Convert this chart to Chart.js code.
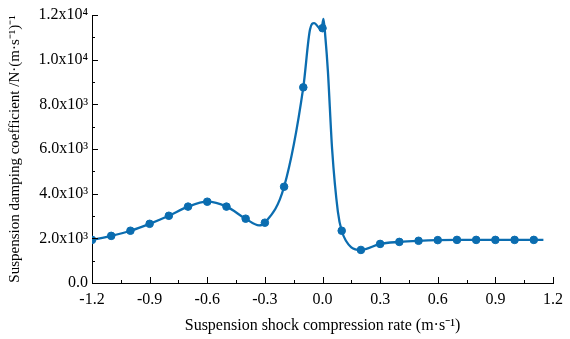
<!DOCTYPE html>
<html><head><meta charset="utf-8">
<script src="https://cdn.jsdelivr.net/npm/chart.js@4/dist/chart.umd.min.js"></script>
<style>html,body{margin:0;padding:0;background:#fff}#w{width:570px;height:339px}</style>
</head><body><div id="w"><canvas id="c"></canvas></div>
<script>
// marker points
const markerX = [-1.2,-1.1,-1.0,-0.9,-0.8,-0.7,-0.6,-0.5,-0.4,-0.3,-0.2,-0.1,0.0,0.1,0.2,0.3,0.4,0.5,0.6,0.7,0.8,0.9,1.0,1.1];
const markerY = [1930,2110,2340,2650,3010,3420,3640,3420,2880,2700,4310,8760,11410,2340,1480,1750,1840,1890,1920,1930,1930,1930,1930,1930];
// fitted curve
const curveX = [-1.2,-1.1,-1.0,-0.9,-0.8,-0.7,-0.6,-0.5,-0.4,-0.33,-0.3,-0.2,-0.1,-0.065,-0.043,-0.017,-0.005,0.005,0.015,0.028,0.05,0.08,0.1,0.15,0.2,0.3,0.4,0.5,0.6,0.7,0.8,0.9,1.0,1.1,1.15];
const curveY = [1930,2110,2340,2650,3010,3420,3640,3420,2880,2580,2700,4310,8760,11350,11640,11420,11400,11820,11000,9500,6000,3200,2340,1600,1480,1750,1840,1890,1920,1930,1930,1930,1930,1930,1930];
const xTicks = [-1.2,-0.9,-0.6,-0.3,0.0,0.3,0.6,0.9,1.2];
const yTicks = [0,2000,4000,6000,8000,10000,12000];

const col = '#0b6db0';
const sup = {'3':'³','4':'⁴'};
function yLabel(v){
  if (v === 0) return '0.0';
  const e = Math.floor(Math.log10(v));
  return (v/Math.pow(10,e)).toFixed(1) + 'x10' + sup[String(e)];
}
const inwardTicks = {
  id:'inward',
  afterDraw(ch){
    const c = ch.ctx, x = ch.scales.x, y = ch.scales.y;
    c.save(); c.strokeStyle='#000'; c.lineWidth=1;
    const bx = x.getPixelForValue(-1.2), by = y.getPixelForValue(0);
    for (let v=0; v<=12000; v+=1000){
      const p = Math.round(y.getPixelForValue(v))+0.5;
      const len = (v%2000===0)?6:3;
      c.beginPath(); c.moveTo(bx,p); c.lineTo(bx+len,p); c.stroke();
    }
    for (let i=0;i<=16;i++){
      const v = -1.2 + i*0.15;
      const p = Math.round(x.getPixelForValue(v))+0.5;
      const len = (i%2===0)?6:3;
      c.beginPath(); c.moveTo(p,by); c.lineTo(p,by-len); c.stroke();
    }
    c.restore();
  }
};
new Chart(document.getElementById('c'), {
  type:'scatter',
  data:{datasets:[
    {type:'line', data:curveX.map((v,i)=>({x:v,y:curveY[i]})), borderColor:col, borderWidth:2.3, pointRadius:0, cubicInterpolationMode:'monotone', fill:false},
    {type:'scatter', data:markerX.map((v,i)=>({x:v,y:markerY[i]})), backgroundColor:col, borderColor:col, pointRadius:3.8}
  ]},
  options:{
    responsive:true, maintainAspectRatio:false, animation:false,
    layout:{padding:{top:15,right:12,left:2,bottom:0}},
    plugins:{legend:{display:false},tooltip:{enabled:false}},
    scales:{
      x:{type:'linear', min:-1.2, max:1.2,
        afterBuildTicks(s){ s.ticks = xTicks.map(v=>({value:v})); },
        afterFit(s){ s.height = 56; },
        grid:{display:false, drawTicks:false}, border:{display:true,color:'#000',width:1},
        ticks:{color:'#000', padding:7, font:{family:'"Liberation Serif"', size:16}, maxRotation:0,
          callback:(v)=> (Math.abs(v)<1e-9?'0.0':Number(v).toFixed(1))},
        title:{display:true, text:'Suspension shock compression rate (m·s⁻¹)', color:'#000', font:{family:'"Liberation Serif"', size:16}, padding:{top:2}}
      },
      y:{min:0, max:12000,
        afterBuildTicks(s){ s.ticks = yTicks.map(v=>({value:v})); },
        afterFit(s){ s.width = 90; },
        grid:{display:false, drawTicks:false}, border:{display:true,color:'#000',width:1},
        ticks:{color:'#000', padding:4, font:{family:'"Liberation Serif"', size:16}, callback:(v)=>yLabel(v)},
        title:{display:true, text:'Suspension damping coefficient /N·(m·s⁻¹)⁻¹', color:'#000', font:{family:'"Liberation Serif"', size:15}, padding:{bottom:0}}
      }
    }
  },
  plugins:[inwardTicks]
});
</script></body></html>
